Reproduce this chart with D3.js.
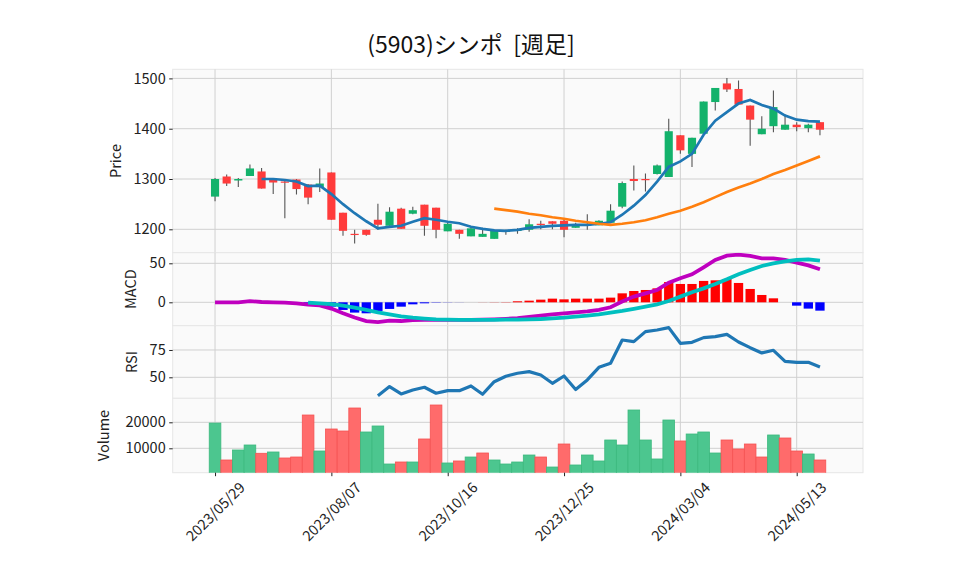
<!DOCTYPE html>
<html>
<head>
<meta charset="utf-8">
<script src="https://cdn.jsdelivr.net/npm/d3@7"></script>
<style>
  body { margin: 0; background: #fff; }
  text { font-family: "Noto Sans CJK JP", "Noto Sans", sans-serif; }
</style>
</head>
<body>
<svg id="chart"></svg>
<script>
// weekly bars, index 0 = 2023/05/29 ... index 52 = 2024/05/27
const tickIdx = [0, 10, 20, 30, 40, 50];
const tickLabels = ['2023/05/29', '2023/08/07', '2023/10/16', '2023/12/25', '2024/03/04', '2024/05/13'];

const open  = [1265,1305,1297,1306,1315,1299,1295,1299,1289,1284,1313,1233,1191,1199,1219,1207,1241,1231,1249,1243,
               1196,1199,1186,1185,1181,1196,1198,1199,1211,1216,1217,1203,1210,1208,1213,1245,1300,1300,1310,1304,
               1387,1350,1390,1453,1490,1479,1446,1389,1405,1398,1408,1401,1413];
const high  = [1302,1309,1302,1329,1322,1300,1300,1300,1290,1321,1313,1233,1199,1199,1251,1244,1243,1245,1249,1243,
               1215,1199,1204,1203,1199,1199,1202,1220,1217,1216,1222,1213,1230,1218,1250,1295,1327,1311,1329,1420,
               1387,1382,1454,1481,1501,1496,1446,1425,1476,1428,1413,1410,1413];
const low   = [1256,1286,1284,1306,1281,1270,1222,1269,1250,1274,1219,1187,1172,1187,1199,1207,1201,1230,1187,1182,
               1196,1181,1186,1185,1181,1189,1191,1195,1200,1200,1184,1203,1199,1208,1213,1242,1277,1275,1309,1304,
               1350,1324,1390,1436,1473,1448,1366,1389,1393,1398,1395,1393,1387];
const close = [1300,1291,1300,1321,1281,1293,1293,1280,1263,1291,1219,1197,1190,1189,1209,1235,1201,1238,1207,1199,
               1211,1191,1202,1191,1197,1197,1199,1210,1210,1211,1199,1208,1210,1217,1237,1292,1296,1299,1327,1395,
               1357,1382,1454,1481,1478,1448,1418,1400,1443,1408,1403,1408,1398];

const ma5  = [null,null,null,null,1300,1300,1298,1295,1286,1287,1270,1250,1232,1216,1202,1205,1207,1215,1222,1219,
              1215,1212,1205,1201,1198,1197,1199,1203,1205,1207,1208,1209,1209,1211,1214,1229,1247,1268,1295,1324,
              1335,1350,1388,1416,1433,1450,1457,1447,1440,1426,1418,1415,1414];
const ma25 = [null,null,null,null,null,null,null,null,null,null,null,null,null,null,null,null,null,null,null,null,
              null,null,null,null,1241,1238,1235,1231,1228,1224,1221,1217,1214,1211,1209,1211,1214,1218,1224,1231,
              1237,1245,1254,1264,1274,1283,1291,1300,1310,1318,1327,1336,1345];

const macd   = [0,0,0,1.5,0.4,0,-0.4,-1.3,-3,-4,-8,-14,-19.5,-24,-25.5,-23.5,-24,-22.8,-22.6,-22.6,
                -22.6,-22.6,-22.5,-22.2,-21.8,-21.2,-20.3,-18.8,-17.1,-15.4,-14.1,-12.8,-11.5,-9.8,-6.4,0.9,7.3,11.5,15.8,25.2,
                30.8,35.9,44.9,54.3,59.8,61.1,59.4,56.4,56.4,54.3,50.9,47.4,42.3];
const signal = [null,null,null,null,null,null,null,null,-0.4,-1.3,-2.4,-4.3,-6.8,-9.8,-12.8,-15.4,-17.9,-19.7,-20.9,-21.8,
                -22.3,-22.6,-22.6,-22.6,-22.5,-22.3,-22.1,-21.8,-21.4,-20.5,-19.7,-18.4,-17.1,-15.4,-13.2,-11.1,-8.5,-5.6,-2.6,1.7,
                7.3,12.8,17.9,23.5,29.5,35.9,41.5,46.6,50,52.6,54.3,55.1,53.4];
const hist   = [null,null,null,null,null,null,null,null,-1.3,-4,-5.6,-9.8,-13.2,-14.1,-11.1,-8.5,-5.6,-2.6,-1.3,-0.4,
                -0.2,-0.1,0,0.1,0.2,0.3,1.3,2.1,3.4,4.7,3.8,4.7,4.7,4.7,6,11.5,14.5,15.8,17.9,26,
                23.5,23.5,27.4,28.2,29.9,24.8,17.1,9.4,5.1,0,-4.3,-8.1,-10.7];

const rsi = [null,null,null,null,null,null,null,null,null,null,null,null,null,null,33.2,41.5,34.8,38.4,40.9,35.4,
             37.8,37.8,42.1,34.5,46,51,53.7,55.2,52.1,44.5,51.2,38.9,47.6,59.1,62.8,84.1,82.6,91.8,93.3,95.4,
             81.1,82,86.3,87.2,89.3,82.3,77.1,72.3,74.7,64.6,63.7,63.7,59.4];

const volume = [19700,5500,9350,11270,8080,8580,6270,6650,22800,8960,17420,16650,25500,16270,18580,3960,4730,4730,13580,26650,
                4350,5120,6650,8190,5500,3960,4730,7420,6650,2800,11650,3580,7420,5120,13190,11270,24730,13190,5890,20880,
                12810,15500,16270,8190,13190,9730,11650,6650,15120,13960,8960,7810,5500];
// volume colour follows close vs previous close: u = up, d = down
const volDir = ['u','d','u','u','d','u','d','d','d','u','d','d','d','u','u','u','d','u','d','d',
                'u','d','u','d','u','u','u','u','d','u','d','u','u','u','u','u','u','u','u','u',
                'd','u','u','u','d','d','d','d','u','d','d','u','d'];

const W = 958, H = 575;
const left = 172.7, right = 863;
const tickFont = '14.5px';
const idx = d3.range(close.length);

const svg = d3.select('#chart').attr('width', W).attr('height', H);

svg.append('text')
    .attr('x', 471).attr('y', 53)
    .attr('text-anchor', 'middle')
    .style('font-size', '23px')
    .attr('fill', '#111')
    .text('(5903)シンポ\u00a0\u00a0[週足]');

const x = d3.scaleLinear().domain([-3.64, 55.7]).range([left, right]);

const panels = [
    { name: 'price', y0: 69.3,  y1: 252.7, dom: [1153.5, 1518.1], ticks: [1200, 1300, 1400, 1500], label: 'Price',  lx: 116 },
    { name: 'macd',  y0: 252.7, y1: 325.7, dom: [-30, 63.6],      ticks: [0, 50],                 label: 'MACD',   lx: 131 },
    { name: 'rsi',   y0: 325.7, y1: 398.3, dom: [30.8, 97.2],     ticks: [50, 75],                label: 'RSI',    lx: 132 },
    { name: 'vol',   y0: 398.3, y1: 472.7, dom: [615, 29230],     ticks: [10000, 20000],          label: 'Volume', lx: 104 }
];

const defs = svg.append('defs');
const y = {};
const layer = {};

panels.forEach(p => {
    y[p.name] = d3.scaleLinear().domain(p.dom).range([p.y1, p.y0]);

    defs.append('clipPath').attr('id', 'clip-' + p.name)
        .append('rect')
        .attr('x', left).attr('y', p.y0)
        .attr('width', right - left).attr('height', p.y1 - p.y0);

    svg.append('rect')
        .attr('x', left).attr('y', p.y0)
        .attr('width', right - left).attr('height', p.y1 - p.y0)
        .attr('fill', '#fafafa')
        .attr('stroke', '#e6e6e6');

    const g = svg.append('g');
    g.selectAll('.vgrid').data(tickIdx).enter().append('line')
        .attr('x1', d => x(d)).attr('x2', d => x(d))
        .attr('y1', p.y0).attr('y2', p.y1)
        .attr('stroke', '#d0d0d0').attr('stroke-width', 1);
    g.selectAll('.hgrid').data(p.ticks).enter().append('line')
        .attr('x1', left).attr('x2', right)
        .attr('y1', d => y[p.name](d)).attr('y2', d => y[p.name](d))
        .attr('stroke', '#d0d0d0').attr('stroke-width', 1);

    const ax = svg.append('g')
        .attr('transform', `translate(${left},0)`)
        .call(d3.axisLeft(y[p.name]).tickValues(p.ticks).tickFormat(d3.format('d'))
            .tickSize(3.5).tickPadding(3.5));
    ax.select('.domain').remove();
    ax.selectAll('line').attr('stroke', '#222');
    ax.selectAll('text').style('font-size', tickFont).attr('fill', '#222');

    svg.append('text')
        .attr('transform', `translate(${p.lx},${(p.y0 + p.y1) / 2}) rotate(-90)`)
        .attr('text-anchor', 'middle')
        .attr('dy', '0.35em')
        .style('font-size', tickFont)
        .attr('fill', '#222')
        .text(p.label);

    layer[p.name] = svg.append('g').attr('clip-path', `url(#clip-${p.name})`);
});

// price panel: candles
const yP = y.price;
const bw = x(0.7) - x(0);
const upC = '#13b26b', dnC = '#ff3b3b';

layer.price.selectAll('.wick').data(idx).enter().append('line')
    .attr('x1', i => x(i)).attr('x2', i => x(i))
    .attr('y1', i => yP(high[i])).attr('y2', i => yP(low[i]))
    .attr('stroke', '#555').attr('stroke-width', 1.1);

layer.price.selectAll('.body').data(idx).enter().append('rect')
    .attr('x', i => x(i) - bw / 2)
    .attr('width', bw)
    .attr('y', i => yP(Math.max(open[i], close[i])))
    .attr('height', i => Math.max(1.2, Math.abs(yP(open[i]) - yP(close[i]))))
    .attr('fill', i => close[i] >= open[i] ? upC : dnC);

const line = (scale) => d3.line()
    .defined(d => d != null)
    .x((d, i) => x(i))
    .y(d => scale(d));

layer.price.append('path').datum(ma5)
    .attr('fill', 'none').attr('stroke', '#1f77b4').attr('stroke-width', 2.7)
    .attr('d', line(yP));
layer.price.append('path').datum(ma25)
    .attr('fill', 'none').attr('stroke', '#ff7f0e').attr('stroke-width', 2.7)
    .attr('d', line(yP));

// MACD panel
const yM = y.macd;
const hw = x(0.8) - x(0);
layer.macd.selectAll('.hist').data(idx.filter(i => hist[i] != null)).enter().append('rect')
    .attr('x', i => x(i) - hw / 2)
    .attr('width', hw)
    .attr('y', i => Math.min(yM(0), yM(hist[i])))
    .attr('height', i => Math.abs(yM(hist[i]) - yM(0)))
    .attr('fill', i => hist[i] >= 0 ? '#ff0000' : '#0000ff');

layer.macd.append('path').datum(macd)
    .attr('fill', 'none').attr('stroke', '#bf00bf').attr('stroke-width', 3.8)
    .attr('d', line(yM));
layer.macd.append('path').datum(signal)
    .attr('fill', 'none').attr('stroke', '#00bfbf').attr('stroke-width', 3.8)
    .attr('d', line(yM));

// RSI panel
layer.rsi.append('path').datum(rsi)
    .attr('fill', 'none').attr('stroke', '#1f77b4').attr('stroke-width', 3.2)
    .attr('stroke-linejoin', 'round')
    .attr('d', line(y.rsi));

// Volume panel
const yV = y.vol;
layer.vol.selectAll('.vbar').data(idx).enter().append('rect')
    .attr('x', i => x(i - 0.5))
    .attr('width', x(1) - x(0))
    .attr('y', i => yV(volume[i]))
    .attr('height', i => yV(0) - yV(volume[i]))
    .attr('fill', i => volDir[i] === 'u' ? '#4cc68f' : '#ff6b6b')
    .attr('stroke', i => volDir[i] === 'u' ? '#3cb97e' : '#f55252')
    .attr('stroke-width', 0.8);

// x axis
const xa = svg.append('g')
    .attr('transform', 'translate(0,472.7)')
    .call(d3.axisBottom(x).tickValues(tickIdx).tickFormat((d, i) => tickLabels[i]).tickSize(3.5));
xa.select('.domain').remove();
xa.selectAll('line').attr('stroke', '#222');
xa.selectAll('text')
    .attr('x', 0).attr('y', 0).attr('dy', '0.35em')
    .attr('text-anchor', 'middle')
    .attr('transform', 'translate(0,39) rotate(-45)')
    .style('font-size', tickFont)
    .attr('fill', '#222');
</script>
</body>
</html>
